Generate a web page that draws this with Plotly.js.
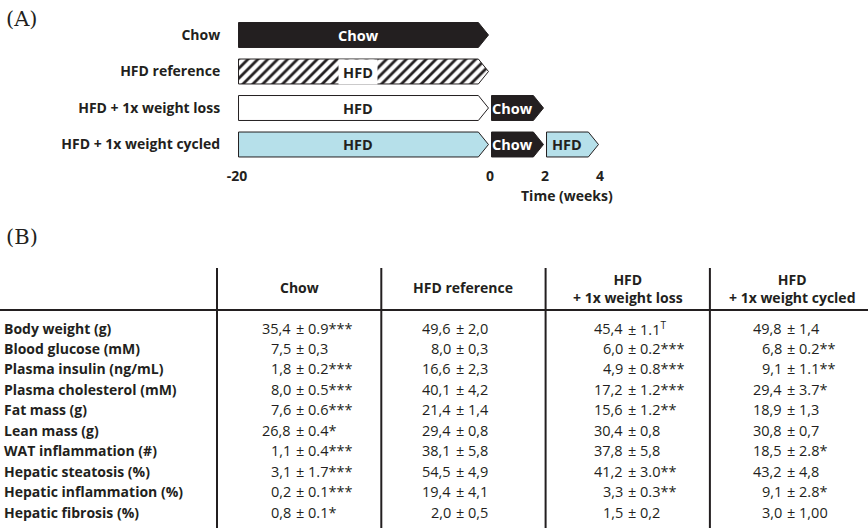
<!DOCTYPE html>
<html><head><meta charset="utf-8">
<script src="https://cdn.plot.ly/plotly-3.0.1.min.js"></script>
<style>html,body{margin:0;padding:0;background:#fff}#chart{width:868px;height:528px}</style>
</head><body><div id="chart"></div>
<script>
// ---------- Panel A data ----------
const groups = ['Chow', 'HFD reference', 'HFD + 1x weight loss', 'HFD + 1x weight cycled'];
const segGroup = [0, 1, 2, 2, 3, 3, 3];
const segStart = [-20, -20, -20, 0, -20, 0, 2];
const segEnd   = [0, 0, 0, 2, 0, 2, 4];
const segDiet  = ['Chow', 'HFD', 'HFD', 'Chow', 'HFD', 'Chow', 'HFD'];
const timeTicks = [-20, 0, 2, 4];
const timeTitle = 'Time (weeks)';

// ---------- Panel B data ----------
const tableCols = ['Chow', 'HFD reference', 'HFD<br>+ 1x weight loss', 'HFD<br>+ 1x weight cycled'];
const rowLabels = ['Body weight (g)', 'Blood glucose (mM)', 'Plasma insulin (ng/mL)', 'Plasma cholesterol (mM)',
  'Fat mass (g)', 'Lean mass (g)', 'WAT inflammation (#)', 'Hepatic steatosis (%)',
  'Hepatic inflammation (%)', 'Hepatic fibrosis (%)'];
const chowVals = ['35,4 ± 0.9***', '7,5 ± 0,3', '1,8 ± 0.2***', '8,0 ± 0.5***', '7,6 ± 0.6***',
  '26,8 ± 0.4*', '1,1 ± 0.4***', '3,1 ± 1.7***', '0,2 ± 0.1***', '0,8 ± 0.1*'];
const hfdRefVals = ['49,6 ± 2,0', '8,0 ± 0,3', '16,6 ± 2,3', '40,1 ± 4,2', '21,4 ± 1,4',
  '29,4 ± 0,8', '38,1 ± 5,8', '54,5 ± 4,9', '19,4 ± 4,1', '2,0 ± 0,5'];
const lossVals = ['45,4 ± 1.1<sup>T</sup>', '6,0 ± 0.2***', '4,9 ± 0.8***', '17,2 ± 1.2***', '15,6 ± 1.2**',
  '30,4 ± 0,8', '37,8 ± 5,8', '41,2 ± 3.0**', '3,3 ± 0.3**', '1,5 ± 0,2'];
const cycledVals = ['49,8 ± 1,4', '6,8 ± 0.2**', '9,1 ± 1.1**', '29,4 ± 3.7*', '18,9 ± 1,3',
  '30,8 ± 0,7', '18,5 ± 2.8*', '43,2 ± 4,8', '9,1 ± 2.8*', '3,0 ± 1,00'];
const tableVals = [chowVals, hfdRefVals, lossVals, cycledVals];

// ---------- styling / layout ----------
const W = 868, H = 528;
const DARK = '#231f20', BLUE = '#b6e0ea';
const FONT = 'Open Sans';
// broken time scale: pre-zero weeks compressed relative to post-zero weeks
const postScale = 2.174;
const pos = w => (w <= 0 ? w : w * postScale);
const pxPerUnit = 12.65, zeroPx = 490, xDomPx = 228;
const rowPx0 = 35, rowStep = 36.5, topDomPx = 159;
const half = 0.342, tip = 0.8, gap = 0.12;

const traces = [];
const annotations = [];
segStart.forEach((s, i) => {
  const g = segGroup[i], diet = segDiet[i];
  const x0 = pos(s) + gap, x1 = pos(segEnd[i]) - gap;
  let fill = 'white', line = DARK, txt = DARK, pattern = null;
  if (diet === 'Chow') { fill = DARK; txt = 'white'; }
  else if (g === 1) { pattern = {shape: '/', fgcolor: DARK, bgcolor: 'white', size: 7, solidity: 0.4}; }
  else if (g === 3) { fill = BLUE; }
  const tr = {
    type: 'scatter', mode: 'lines', xaxis: 'x', yaxis: 'y',
    x: [x0, x1 - tip, x1, x1 - tip, x0, x0],
    y: [g - half, g - half, g, g + half, g + half, g - half],
    fill: 'toself', fillcolor: fill, line: {color: line, width: 1},
    hoverinfo: 'skip', showlegend: false
  };
  if (pattern) tr.fillpattern = pattern;
  traces.push(tr);
  const a = {
    xref: 'x', yref: 'y', x: (x0 + x1 - tip) / 2, y: g, xanchor: 'center', yanchor: 'middle',
    text: '<b>' + diet + '</b>', showarrow: false, font: {family: FONT, size: 14.5, color: txt}
  };
  if (pattern) { a.bgcolor = 'white'; a.width = 38; a.height = 24; a.borderpad = 0; }
  annotations.push(a);
});

annotations.push({xref: 'x', yref: 'paper', x: (567 - zeroPx) / pxPerUnit, y: 1 - 195 / H,
  xanchor: 'center', yanchor: 'middle',
  text: '<b>' + timeTitle + '</b>', showarrow: false, font: {family: FONT, size: 14, color: DARK}});
annotations.push({xref: 'paper', yref: 'paper', x: 4 / W, y: 1 - 19 / H, xanchor: 'left', yanchor: 'middle',
  text: '(A)', showarrow: false, font: {family: 'DejaVu Serif', size: 21, color: DARK}});
annotations.push({xref: 'paper', yref: 'paper', x: 4 / W, y: 1 - 237 / H, xanchor: 'left', yanchor: 'middle',
  text: '(B)', showarrow: false, font: {family: 'DejaVu Serif', size: 21, color: DARK}});

// table geometry (x2 in column units, y2 in row units)
const colLeftPx = 217, colW = 164.3, tRow0 = 328, tRowStep = 20.45;
const ux = px => (px - colLeftPx) / colW;
const uy = px => (px - tRow0) / tRowStep;
const pmOffsetPx = [77, 73, 80, 75];
tableCols.forEach((c, k) => {
  annotations.push({xref: 'x2', yref: 'y2', x: k + 0.5, y: c.includes('<br>') ? uy(288) : uy(287),
    xanchor: 'center', yanchor: 'middle',
    text: '<b>' + c + '</b>', showarrow: false, align: 'center',
    font: {family: FONT, size: 14, color: DARK}});
});
rowLabels.forEach((lab, r) => {
  annotations.push({xref: 'x2', yref: 'y2', x: ux(2), y: r, xanchor: 'left', yanchor: 'middle',
    text: '<b>' + lab + '</b>', showarrow: false, font: {family: FONT, size: 14, color: DARK}});
});
tableVals.forEach((col, k) => {
  col.forEach((v, r) => {
    const parts = v.split(' ± ');
    const ax = k + pmOffsetPx[k] / colW;
    annotations.push({xref: 'x2', yref: 'y2', x: ax - 1 / colW, y: r, xanchor: 'right', yanchor: 'middle',
      text: parts[0], showarrow: false, font: {family: FONT, size: 14.5, color: DARK}});
    annotations.push({xref: 'x2', yref: 'y2', x: ax, y: r, xanchor: 'left', yanchor: 'middle',
      text: '± ' + parts[1], showarrow: false, font: {family: FONT, size: 14.5, color: DARK}});
  });
});

const x2Range = [ux(0), ux(W)];
const y2Range = [uy(H), uy(0)];
const shapes = [];
for (let k = 0; k < 4; k++) {
  shapes.push({type: 'line', xref: 'x2', yref: 'y2', x0: k, x1: k, y0: uy(268), y1: uy(H),
    line: {color: DARK, width: 2}});
}
shapes.push({type: 'line', xref: 'x2', yref: 'y2', x0: x2Range[0], x1: x2Range[1], y0: uy(310), y1: uy(310),
  line: {color: DARK, width: 2}});

const hidden = {showgrid: false, zeroline: false, showline: false, showticklabels: false, ticks: ''};
const layout = {
  width: W, height: H, margin: {l: 0, r: 0, t: 0, b: 0},
  paper_bgcolor: 'white', plot_bgcolor: 'rgba(0,0,0,0)', showlegend: false,
  xaxis: {domain: [xDomPx / W, 1], range: [(xDomPx - zeroPx) / pxPerUnit, (W - zeroPx) / pxPerUnit],
    anchor: 'y', showgrid: false, zeroline: false, showline: false,
    tickvals: timeTicks.map(pos), ticktext: timeTicks.map(String),
    ticks: 'outside', ticklen: 4, tickcolor: 'rgba(0,0,0,0)',
    tickfont: {family: FONT, size: 14, color: DARK, weight: 'bold'}},
  yaxis: {domain: [1 - topDomPx / H, 1], range: [(topDomPx - rowPx0) / rowStep, -rowPx0 / rowStep],
    anchor: 'x', showgrid: false, zeroline: false, showline: false,
    tickvals: groups.map((g, i) => i), ticktext: groups,
    ticks: 'outside', ticklen: 4, tickcolor: 'rgba(0,0,0,0)',
    tickfont: {family: FONT, size: 14, color: DARK, weight: 'bold'}},
  xaxis2: Object.assign({domain: [0, 1], range: x2Range, anchor: 'y2'}, hidden),
  yaxis2: Object.assign({domain: [0, 1], range: y2Range, anchor: 'x2'}, hidden),
  annotations: annotations, shapes: shapes
};
// empty trace so the table subplot's axes exist
traces.push({type: 'scatter', x: [], y: [], xaxis: 'x2', yaxis: 'y2', hoverinfo: 'skip', showlegend: false});
Plotly.newPlot('chart', traces, layout, {staticPlot: true, displayModeBar: false});
</script>
</body></html>
